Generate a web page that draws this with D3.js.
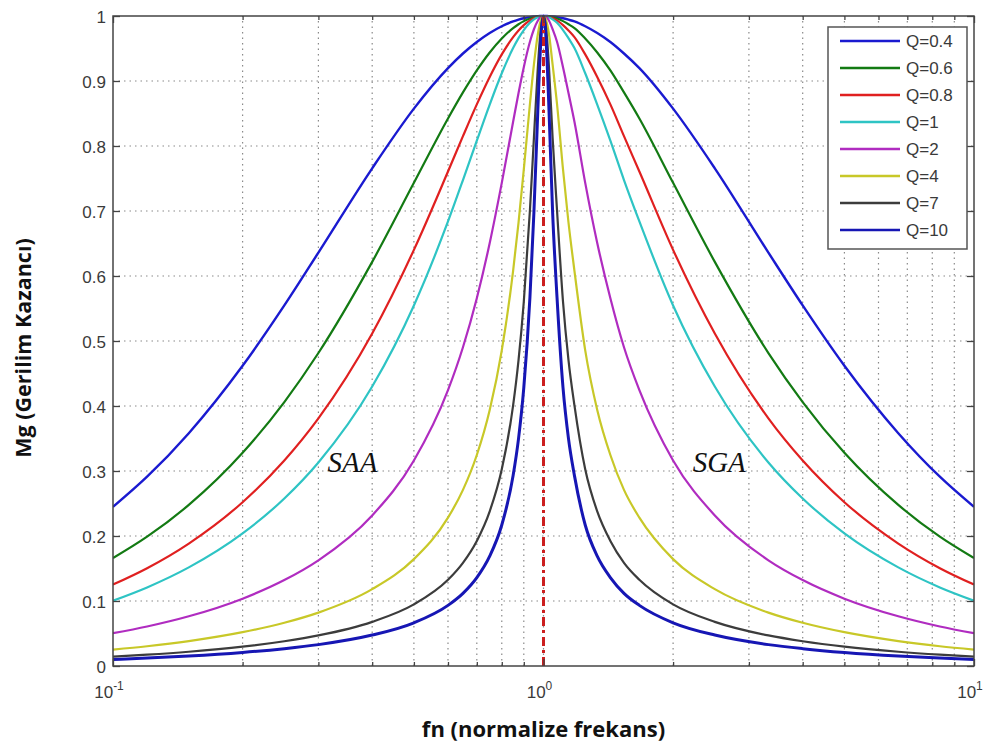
<!DOCTYPE html>
<html>
<head>
<meta charset="utf-8">
<script src="https://cdn.jsdelivr.net/npm/d3@7"></script>
<style>
  html, body { margin: 0; padding: 0; background: #fff; }
  svg { display: block; }
</style>
</head>
<body>
<svg id="chart" width="987" height="749"></svg>
<script>
// Normalized frequency samples (log axis from 0.1 to 10)
const freqs = [0.1, 0.12, 0.15, 0.2, 0.25, 0.3, 0.4, 0.5, 0.6, 0.65, 0.7, 0.75, 0.8, 0.85, 0.875, 0.9, 0.93, 0.95, 0.97, 0.98, 0.99, 1,
               1.01, 1.02, 1.03, 1.05, 1.075, 1.11, 1.143, 1.18, 1.25, 1.333, 1.43, 1.538, 1.67, 2, 2.5, 3.33, 4, 5, 6.67, 8.33, 10];

// Voltage gain for each quality factor
const q04 = [0.2448, 0.2912, 0.3582, 0.4619, 0.5547, 0.6360, 0.7657, 0.8575, 0.9198, 0.9423, 0.9600, 0.9738, 0.9842, 0.9916, 0.9943, 0.9965, 0.9983, 0.9992, 0.9997, 0.9999, 1.0, 1,
             1.0, 0.9999, 0.9997, 0.9992, 0.9983, 0.9965, 0.9943, 0.9916, 0.9842, 0.9738, 0.9600, 0.9423, 0.9198, 0.8575, 0.7657, 0.6360, 0.5547, 0.4619, 0.3582, 0.2912, 0.2448];
const q06 = [0.1660, 0.1989, 0.2478, 0.3280, 0.4061, 0.4815, 0.6217, 0.7433, 0.8423, 0.8824, 0.9163, 0.9439, 0.9654, 0.9814, 0.9873, 0.9921, 0.9962, 0.9981, 0.9993, 0.9997, 0.9999, 1,
             0.9999, 0.9997, 0.9993, 0.9981, 0.9962, 0.9921, 0.9873, 0.9814, 0.9654, 0.9439, 0.9163, 0.8824, 0.8423, 0.7433, 0.6217, 0.4815, 0.4061, 0.3280, 0.2478, 0.1989, 0.1660];
const q08 = [0.1253, 0.1505, 0.1884, 0.2520, 0.3162, 0.3810, 0.5115, 0.6402, 0.7607, 0.8151, 0.8640, 0.9062, 0.9409, 0.9675, 0.9778, 0.9860, 0.9933, 0.9967, 0.9988, 0.9995, 0.9999, 1,
             0.9999, 0.9995, 0.9988, 0.9967, 0.9933, 0.9860, 0.9778, 0.9675, 0.9409, 0.9062, 0.8640, 0.8151, 0.7607, 0.6402, 0.5115, 0.3810, 0.3162, 0.2520, 0.1884, 0.1505, 0.1253];
const q1  = [0.1005, 0.1209, 0.1517, 0.2040, 0.2577, 0.3131, 0.4299, 0.5547, 0.6839, 0.7476, 0.8082, 0.8638, 0.9119, 0.9506, 0.9659, 0.9784, 0.9896, 0.9948, 0.9981, 0.9992, 0.9998, 1,
             0.9998, 0.9992, 0.9981, 0.9948, 0.9896, 0.9784, 0.9659, 0.9506, 0.9119, 0.8638, 0.8082, 0.7476, 0.6839, 0.5547, 0.4299, 0.3131, 0.2577, 0.2040, 0.1517, 0.1209, 0.1005];
const q2  = [0.0504, 0.0608, 0.0765, 0.1036, 0.1322, 0.1626, 0.2316, 0.3162, 0.4244, 0.4904, 0.5658, 0.6508, 0.7433, 0.8373, 0.8815, 0.9213, 0.9603, 0.9796, 0.9927, 0.9968, 0.9992, 1,
             0.9992, 0.9968, 0.9927, 0.9796, 0.9603, 0.9213, 0.8815, 0.8373, 0.7433, 0.6508, 0.5658, 0.4904, 0.4244, 0.3162, 0.2316, 0.1626, 0.1322, 0.1036, 0.0765, 0.0608, 0.0504];
const q4  = [0.0252, 0.0304, 0.0383, 0.0520, 0.0665, 0.0821, 0.1182, 0.1644, 0.2282, 0.2709, 0.3246, 0.3939, 0.4856, 0.6080, 0.6823, 0.7640, 0.8646, 0.9251, 0.9716, 0.9872, 0.9968, 1,
             0.9968, 0.9872, 0.9716, 0.9251, 0.8646, 0.7640, 0.6823, 0.6080, 0.4856, 0.3939, 0.3246, 0.2709, 0.2282, 0.1644, 0.1182, 0.0821, 0.0665, 0.0520, 0.0383, 0.0304, 0.0252];
const q7  = [0.0144, 0.0174, 0.0219, 0.0297, 0.0381, 0.0470, 0.0679, 0.0948, 0.1327, 0.1588, 0.1924, 0.2379, 0.3026, 0.4009, 0.4706, 0.5604, 0.7012, 0.8121, 0.9198, 0.9622, 0.9902, 1,
             0.9902, 0.9622, 0.9198, 0.8121, 0.7012, 0.5604, 0.4706, 0.4009, 0.3026, 0.2379, 0.1924, 0.1588, 0.1327, 0.0948, 0.0679, 0.0470, 0.0381, 0.0297, 0.0219, 0.0174, 0.0144];
const q10 = [0.0101, 0.0122, 0.0153, 0.0208, 0.0267, 0.0329, 0.0476, 0.0665, 0.0933, 0.1118, 0.1360, 0.1690, 0.2169, 0.2929, 0.3498, 0.4281, 0.5670, 0.6979, 0.8540, 0.9272, 0.9804, 1,
             0.9804, 0.9272, 0.8540, 0.6979, 0.5670, 0.4281, 0.3498, 0.2929, 0.2169, 0.1690, 0.1360, 0.1118, 0.0933, 0.0665, 0.0476, 0.0329, 0.0267, 0.0208, 0.0153, 0.0122, 0.0101];

const seriesNames  = ["Q=0.4", "Q=0.6", "Q=0.8", "Q=1", "Q=2", "Q=4", "Q=7", "Q=10"];
const seriesValues = [q04, q06, q08, q1, q2, q4, q7, q10];
const seriesColors = ["#1a1ad0", "#137a13", "#e02020", "#2ec4c4", "#b02cc0", "#c8c828", "#3c3c3c", "#1616b4"];
const seriesWidths = [2.4, 2.2, 2.2, 2.2, 2.2, 2.2, 2.2, 3];

const yTicks = [0, 0.1, 0.2, 0.3, 0.4, 0.5, 0.6, 0.7, 0.8, 0.9, 1];
const xMajor = [0.1, 1, 10];
const xMajorExp = ["-1", "0", "1"];
const resonance = 1;

const svg = d3.select("#chart");
const plotLeft = 113, plotRight = 974, plotTop = 16, plotBottom = 666;

const x = d3.scaleLog().domain([0.1, 10]).range([plotLeft, plotRight]);
const y = d3.scaleLinear().domain([0, 1]).range([plotBottom, plotTop]);

// minor log ticks 2..9 in each decade
const xMinor = [];
[0.1, 1].forEach(d => { for (let k = 2; k <= 9; k++) xMinor.push(+(d * k).toFixed(3)); });

const grid = svg.append("g").attr("stroke", "#8a8a8a").attr("stroke-width", 1.2)
  .attr("stroke-dasharray", "1.5,4");
grid.selectAll("line.gx").data(xMinor.concat([1])).join("line")
  .attr("x1", d => x(d)).attr("x2", d => x(d)).attr("y1", plotBottom).attr("y2", plotTop);
grid.selectAll("line.gy").data(yTicks.slice(1, -1)).join("line")
  .attr("y1", d => y(d)).attr("y2", d => y(d)).attr("x1", plotLeft).attr("x2", plotRight);

// curves
const line = d3.line().x((d, i) => x(freqs[i])).y(d => y(d)).curve(d3.curveMonotoneX);
svg.append("defs").append("clipPath").attr("id", "plotclip")
  .append("rect").attr("x", plotLeft).attr("y", plotTop - 2).attr("width", plotRight - plotLeft).attr("height", plotBottom - plotTop + 2);
const curves = svg.append("g").attr("clip-path", "url(#plotclip)");
seriesValues.forEach((vals, i) => {
  curves.append("path").attr("d", line(vals)).attr("fill", "none")
    .attr("stroke", seriesColors[i]).attr("stroke-width", seriesWidths[i])
    .attr("stroke-linejoin", "round");
});

// resonance marker
svg.append("line")
  .attr("x1", x(resonance)).attr("x2", x(resonance)).attr("y1", y(0)).attr("y2", y(1))
  .attr("stroke", "#cc1f1f").attr("stroke-width", 3).attr("stroke-dasharray", "9,4,3,4");

// axes with inward ticks on all four sides
const axisColor = "#444";
const tickFont = "Liberation Sans, Arial, sans-serif";
const xb = svg.append("g").attr("transform", `translate(0,${plotBottom})`)
  .call(d3.axisBottom(x).tickValues(xMajor).tickSizeInner(-7).tickSizeOuter(0).tickFormat(""));
const xbm = svg.append("g").attr("transform", `translate(0,${plotBottom})`)
  .call(d3.axisBottom(x).tickValues(xMinor).tickSizeInner(-4).tickSizeOuter(0).tickFormat(""));
const xt = svg.append("g").attr("transform", `translate(0,${plotTop})`)
  .call(d3.axisTop(x).tickValues(xMajor).tickSizeInner(-7).tickSizeOuter(0).tickFormat(""));
const xtm = svg.append("g").attr("transform", `translate(0,${plotTop})`)
  .call(d3.axisTop(x).tickValues(xMinor).tickSizeInner(-4).tickSizeOuter(0).tickFormat(""));
const yl = svg.append("g").attr("transform", `translate(${plotLeft},0)`)
  .call(d3.axisLeft(y).tickValues(yTicks).tickSizeInner(-7).tickSizeOuter(0)
    .tickFormat(d => d === 0 ? "0" : d === 1 ? "1" : d3.format(".1f")(d)));
const yr = svg.append("g").attr("transform", `translate(${plotRight},0)`)
  .call(d3.axisRight(y).tickValues(yTicks).tickSizeInner(-7).tickSizeOuter(0).tickFormat(""));
[xb, xbm, xt, xtm, yl, yr].forEach(g => {
  g.select(".domain").remove();
  g.selectAll("line").attr("stroke", axisColor).attr("stroke-width", 1.3);
});
yl.selectAll("text").attr("x", -7).attr("dy", "0.36em")
  .attr("font-family", tickFont).attr("font-size", 17).attr("fill", "#3a3a3a");

// x tick labels as powers of ten
const xl = svg.append("g");
xMajor.forEach((v, i) => {
  const t = xl.append("text").attr("x", x(v) - 4).attr("y", plotBottom + 32)
    .attr("text-anchor", "middle").attr("font-family", tickFont).attr("font-size", 17).attr("fill", "#3a3a3a");
  t.append("tspan").text("10");
  t.append("tspan").attr("dy", -8).attr("font-size", 12).text(xMajorExp[i]);
});

// frame
svg.append("rect").attr("x", plotLeft).attr("y", plotTop).attr("width", plotRight - plotLeft).attr("height", plotBottom - plotTop)
  .attr("fill", "none").attr("stroke", axisColor).attr("stroke-width", 1.5);

// region labels
const regions = [{ t: "SAA", f: 0.36 }, { t: "SGA", f: 2.56 }];
svg.selectAll("text.region").data(regions).join("text")
  .attr("x", d => x(d.f)).attr("y", y(0.3) + 1).attr("text-anchor", "middle")
  .attr("font-family", "Liberation Serif, Times New Roman, serif").attr("font-style", "italic")
  .attr("font-size", 29).attr("fill", "#111").text(d => d.t);

// legend
const lg = svg.append("g").attr("transform", "translate(828,27)");
lg.append("rect").attr("width", 139).attr("height", 222).attr("fill", "#fff")
  .attr("stroke", "#555").attr("stroke-width", 1.5);
seriesNames.forEach((n, i) => {
  const yy = 14 + i * 27;
  lg.append("line").attr("x1", 12).attr("x2", 72).attr("y1", yy).attr("y2", yy)
    .attr("stroke", seriesColors[i]).attr("stroke-width", 2.5);
  lg.append("text").attr("x", 78).attr("y", yy).attr("dy", "0.36em")
    .attr("font-family", tickFont).attr("font-size", 17).attr("fill", "#3a3a3a").text(n);
});

// axis titles
svg.append("text").attr("x", x(1)).attr("y", 737).attr("text-anchor", "middle")
  .attr("font-family", "Open Sans, sans-serif").attr("font-weight", "bold").attr("font-size", 22)
  .attr("fill", "#111").text("fn (normalize frekans)");
svg.append("text").attr("transform", `translate(31,348) rotate(-90)`).attr("text-anchor", "middle")
  .attr("font-family", "Open Sans, sans-serif").attr("font-weight", "bold").attr("font-size", 21.5)
  .attr("fill", "#111").text("Mg (Gerilim Kazancı)");
</script>
</body>
</html>
